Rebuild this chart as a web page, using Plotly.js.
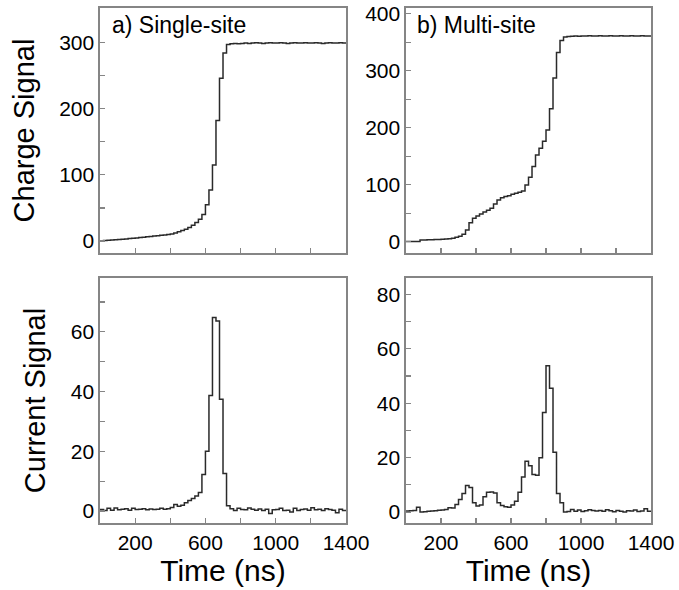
<!DOCTYPE html>
<html>
<head>
<meta charset="utf-8">
<script src="https://cdn.plot.ly/plotly-3.0.1.min.js"></script>
<style>
  html, body { margin: 0; padding: 0; background: #ffffff; }
  #chart { width: 679px; height: 590px; }
</style>
</head>
<body>
<div id="chart"></div>
<script>
// ---- Data (20 ns bins) ----
const binWidthNs = 20;
const timeEndNs = 1400;

const chargeSingle = [
  0.5,1.0,1.3,1.7,2.1,2.5,2.9,3.3,3.8,4.3,4.8,5.3,5.8,6.4,7.0,7.5,8.0,8.6,9.2,9.8,
  10.5,12.0,14.0,16.0,18.0,20.5,24.0,28.0,33.0,40.0,55.0,77.0,115.0,182.0,246.0,284.0,297.0,298.0,298.5,298.0,
  298.5,299,298.5,299,299.5,299,298.5,299,299.5,299,299,299.5,299,298.5,299,299.5,299,299,299.5,299,
  299,299.5,299,298.5,299,299.5,299,299,299.5,299
];
const currentSingle = [
  0.5,0.2,0.9,0.3,1.0,0.4,0.6,0.8,0.3,0.9,0.5,0.6,0.8,0.4,0.7,0.5,0.6,0.9,0.6,0.8,
  1.2,2.2,1.6,1.9,2.8,3.5,4.2,5.0,6.2,12.2,20.0,38.7,64.8,63.6,37.4,12.6,1.8,0.8,0.2,0.9,
  0.5,0.4,1.0,0.6,0.3,0.7,0.2,0.6,-0.8,0.4,0.5,0.9,0.2,0.3,-0.3,0.9,0.2,0.5,0.7,0.3,
  1.1,0.4,0.6,0.2,0.8,0.5,0.3,-0.6,0.6,0.2
];
const chargeMulti = [
  0,0,0,0.3,3.0,3.0,3.2,3.3,3.5,3.8,4.2,4.6,5.2,6.0,7.6,9.5,13.0,20.5,33.0,41.0,
  45.0,48.6,52.0,55.0,58.5,66.0,73.0,77.0,79.0,80.5,83.0,85.0,86.5,89.0,99.5,113.0,132.0,152.0,164.0,176.0,
  196,233,287,332,353,359,360,360.5,361,360.5,361,361,361.5,361,361,361.5,361,361,361.5,361,
  361,361.5,361,361,361.5,361,361,361.5,361,361
];
const currentMulti = [
  0.4,0.5,0.6,1.8,0.0,0.1,0.3,0.4,0.5,0.7,0.8,1.0,1.6,1.5,2.8,4.6,6.8,9.8,9.0,3.4,
  2.2,2.6,5.6,7.3,7.4,7.0,3.4,2.4,2.0,1.8,2.6,4.0,7.3,12.9,18.7,17.0,13.8,13.5,20.0,36.6,
  53.8,45.5,22.0,6.8,3.4,0.0,0.2,1.0,0.3,0.8,0.2,0.5,0.9,0.6,0.4,0.6,0.3,0.9,0.5,0.1,
  0.6,0.3,0.0,0.5,0.4,0.8,0.2,0.4,1.2,0.3
];

const panelLabels = ["a) Single-site", "b) Multi-site"];
const xTickVals = [200,400,600,800,1000,1200,1400];
const xTickText = ["200","","600","","1000","","1400"];
const chargeSingleTickVals = [0,50,100,150,200,250,300];
const chargeSingleTickText = ["0","","100","","200","","300"];
const chargeMultiTickVals = [0,50,100,150,200,250,300,350,400];
const chargeMultiTickText = ["0","","100","","200","","300","","400"];
const currentSingleTickVals = [0,10,20,30,40,50,60,70];
const currentSingleTickText = ["0","","20","","40","","60",""];
const currentMultiTickVals = [0,10,20,30,40,50,60,70,80];
const currentMultiTickText = ["0","","20","","40","","60","","80"];

// ---- Build step traces ----
function stepTrace(values, xa, ya) {
  const x = values.map((_, i) => i * binWidthNs);
  const y = values.slice();
  x.push(timeEndNs); y.push(values[values.length - 1]);
  return {
    x: x, y: y, xaxis: xa, yaxis: ya, type: 'scatter', mode: 'lines',
    line: { shape: 'hv', color: '#2a2a2a', width: 1.5 },
    hoverinfo: 'x+y', showlegend: false
  };
}

const data = [
  stepTrace(chargeSingle, 'x', 'y'),
  stepTrace(chargeMulti, 'x2', 'y2'),
  stepTrace(currentSingle, 'x3', 'y3'),
  stepTrace(currentMulti, 'x4', 'y4')
];

const FONT = '"Liberation Sans", Arial, Helvetica, sans-serif';
const frameColor = '#858585';

function xAxis(domain, anchor, showLabels) {
  const ax = {
    domain: domain, anchor: anchor, range: [0, 1400],
    tickvals: xTickVals, ticktext: xTickText,
    ticks: 'inside', ticklen: 5, tickwidth: 1.2, tickcolor: frameColor,
    showline: true, linecolor: frameColor, linewidth: 1.6, mirror: true,
    showgrid: false, zeroline: false, showticklabels: showLabels,
    tickfont: { family: FONT, size: 21, color: '#000' }
  };
  if (showLabels) {
    ax.title = { text: 'Time (ns)', font: { family: FONT, size: 30, color: '#000' }, standoff: 0 };
  }
  return ax;
}
function yAxis(domain, anchor, range, tv, tt, title) {
  const ax = {
    domain: domain, anchor: anchor, range: range,
    tickvals: tv, ticktext: tt,
    ticks: 'inside', ticklen: 5, tickwidth: 1.2, tickcolor: frameColor,
    showline: true, linecolor: frameColor, linewidth: 1.6, mirror: true,
    showgrid: false, zeroline: false,
    tickfont: { family: FONT, size: 21, color: '#000' }
  };
  if (title) {
    ax.title = { text: title, font: { family: FONT, size: 29, color: '#000' }, standoff: 16 };
  }
  return ax;
}

const leftDom = [0, 0.4465];
const rightDom = [0.5554, 1];
const topDom = [0.5243, 1];
const botDom = [0, 0.4757];

const layout = {
  width: 679, height: 590,
  margin: { l: 100, r: 28, t: 8, b: 67 },
  paper_bgcolor: '#ffffff', plot_bgcolor: '#ffffff',
  font: { family: FONT, color: '#000' },
  xaxis: xAxis(leftDom, 'y', false),
  xaxis2: xAxis(rightDom, 'y2', false),
  xaxis3: xAxis(leftDom, 'y3', true),
  xaxis4: xAxis(rightDom, 'y4', true),
  yaxis: yAxis(topDom, 'x', [-18, 352], chargeSingleTickVals, chargeSingleTickText, 'Charge Signal'),
  yaxis2: yAxis(topDom, 'x2', [-20, 410], chargeMultiTickVals, chargeMultiTickText, null),
  yaxis3: yAxis(botDom, 'x3', [-4, 78], currentSingleTickVals, currentSingleTickText, 'Current Signal'),
  yaxis4: yAxis(botDom, 'x4', [-4, 86], currentMultiTickVals, currentMultiTickText, null),
  annotations: [
    { text: panelLabels[0], xref: 'x domain', yref: 'y domain', x: 0.04, y: 0.93,
      xanchor: 'left', yanchor: 'middle', showarrow: false,
      font: { family: FONT, size: 23, color: '#000' } },
    { text: panelLabels[1], xref: 'x2 domain', yref: 'y2 domain', x: 0.035, y: 0.93,
      xanchor: 'left', yanchor: 'middle', showarrow: false,
      font: { family: FONT, size: 23, color: '#000' } }
  ]
};

Plotly.newPlot('chart', data, layout, { staticPlot: true, displayModeBar: false });
</script>
</body>
</html>
